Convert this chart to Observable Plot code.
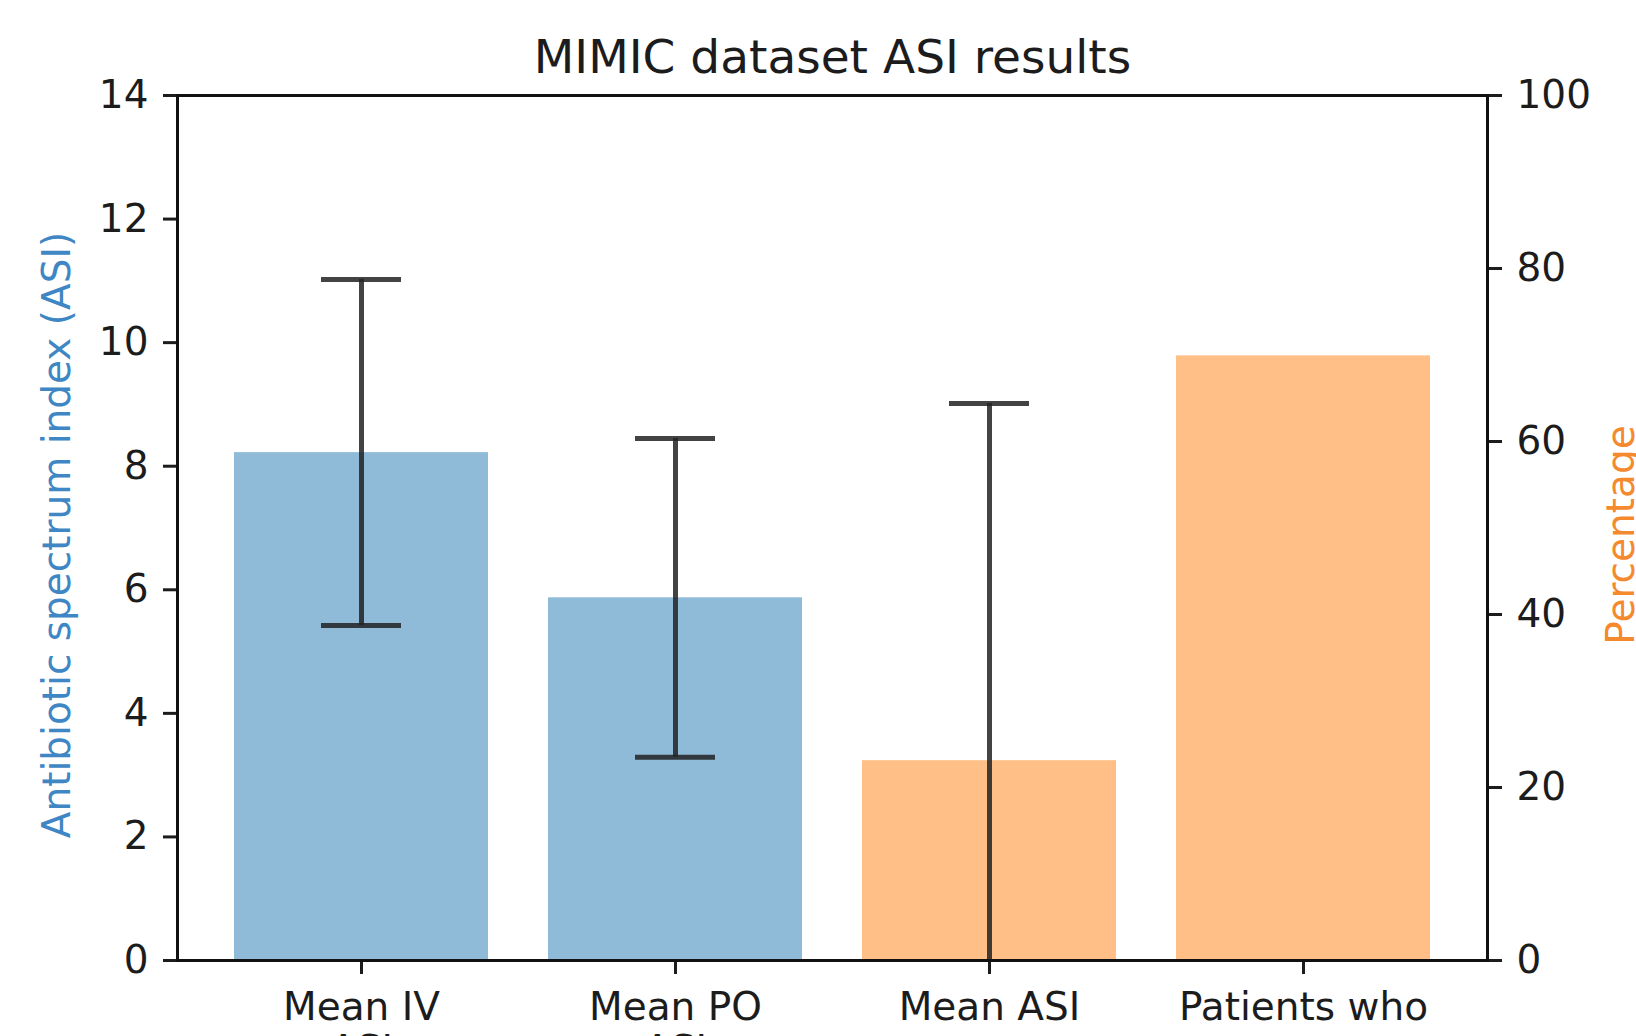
<!DOCTYPE html>
<html>
<head>
<meta charset="utf-8">
<script src="https://cdn.jsdelivr.net/npm/d3@7"></script>
<script src="https://cdn.jsdelivr.net/npm/@observablehq/plot@0.6"></script>
<style>
html, body { margin: 0; padding: 0; background: #fff; overflow: hidden; }
#wrap { position: relative; width: 1636px; height: 1036px; overflow: hidden; }
#wrap svg { position: absolute; left: 0; top: 0; }
</style>
</head>
<body>
<div id="wrap"></div>
<script>
// ---- data ----
const categories = ["Mean IV\nASI", "Mean PO\nASI", "Mean ASI", "Patients who"];
const asiCategories = ["Mean IV\nASI", "Mean PO\nASI"];
const asiMeans = [8.22, 5.87];
const asiErrors = [2.8, 2.58];
const pctCategories = ["Mean ASI", "Patients who"];
const pctValues = [23.1, 69.9];
const pctErrors = [41.3, null];
const asiTicks = [0, 2, 4, 6, 8, 10, 12, 14];
const pctTicks = [0, 20, 40, 60, 80, 100];
const titleText = "MIMIC dataset ASI results";
const asiLabel = "Antibiotic spectrum index (ASI)";
const pctLabel = "Percentage";

// ---- tables built from the arrays ----
const asiData = asiCategories.map((c, i) => ({cat: c, value: asiMeans[i], err: asiErrors[i]}));
const pctData = pctCategories.map((c, i) => ({cat: c, value: pctValues[i], err: pctErrors[i]}));
const pctErrData = pctData.filter(d => d.err != null);

const W = 1636, H = 1036;
const layout = {width: W, height: H, marginLeft: 177, marginRight: 149, marginTop: 95, marginBottom: 76};
const xBand = {type: "band", domain: categories, paddingInner: 0.19, paddingOuter: 0.18, align: 0.5};
const font = "'DejaVu Sans', sans-serif";
const ink = "#1c1c1c";
const errStroke = "#222";
const capInset = 87;

const left = Plot.plot({
  ...layout,
  style: {fontFamily: font, fontSize: "39px", background: "#fff", color: ink, overflow: "visible"},
  x: {...xBand},
  y: {domain: [0, 14]},
  marks: [
    Plot.barY(asiData, {x: "cat", y: "value", fill: "#8fbbd9"}),
    Plot.ruleX(asiData, {x: "cat", y1: d => d.value - d.err, y2: d => d.value + d.err, stroke: errStroke, strokeWidth: 5, strokeOpacity: 0.85}),
    Plot.tickY(asiData, {x: "cat", y: d => d.value + d.err, stroke: errStroke, strokeWidth: 5, strokeOpacity: 0.85, insetLeft: capInset, insetRight: capInset}),
    Plot.tickY(asiData, {x: "cat", y: d => d.value - d.err, stroke: errStroke, strokeWidth: 5, strokeOpacity: 0.85, insetLeft: capInset, insetRight: capInset}),
    Plot.axisY({ticks: asiTicks, tickSize: 14, tickPadding: 15, strokeWidth: 3, label: null, fontSize: 39}),
    Plot.axisX({tickSize: 14, tickPadding: 15, strokeWidth: 3, label: null, fontSize: 39, lineHeight: 1.1}),
    Plot.text([titleText], {text: d => d, frameAnchor: "top", lineAnchor: "middle", textAnchor: "middle", dy: -38, fontSize: 47, fill: ink}),
    Plot.text([asiLabel], {text: d => d, frameAnchor: "left", rotate: -90, textAnchor: "middle", lineAnchor: "middle", dx: -120, dy: 7, fontSize: 39, fill: "#3f87c4"})
  ]
});

const right = Plot.plot({
  ...layout,
  style: {fontFamily: font, fontSize: "39px", background: "transparent", color: ink, overflow: "visible"},
  x: {...xBand, axis: null},
  y: {domain: [0, 100]},
  marks: [
    Plot.barY(pctData, {x: "cat", y: "value", fill: "#ffbf86"}),
    Plot.ruleX(pctErrData, {x: "cat", y1: d => d.value - d.err, y2: d => d.value + d.err, stroke: errStroke, strokeWidth: 5, strokeOpacity: 0.85, clip: true}),
    Plot.tickY(pctErrData, {x: "cat", y: d => d.value + d.err, stroke: errStroke, strokeWidth: 5, strokeOpacity: 0.85, insetLeft: capInset, insetRight: capInset, clip: true}),
    Plot.tickY(pctErrData, {x: "cat", y: d => d.value - d.err, stroke: errStroke, strokeWidth: 5, strokeOpacity: 0.85, insetLeft: capInset, insetRight: capInset, clip: true}),
    Plot.axisY({anchor: "right", ticks: pctTicks, tickSize: 14, tickPadding: 15, strokeWidth: 3, label: null, fontSize: 39}),
    Plot.text([pctLabel], {text: d => d, frameAnchor: "right", rotate: -90, textAnchor: "middle", lineAnchor: "middle", dx: 134, dy: 7, fontSize: 39, fill: "#f5892e"}),
    Plot.frame({stroke: "#111", strokeWidth: 3})
  ]
});

const wrap = document.getElementById("wrap");
wrap.appendChild(left);
wrap.appendChild(right);
</script>
</body>
</html>
